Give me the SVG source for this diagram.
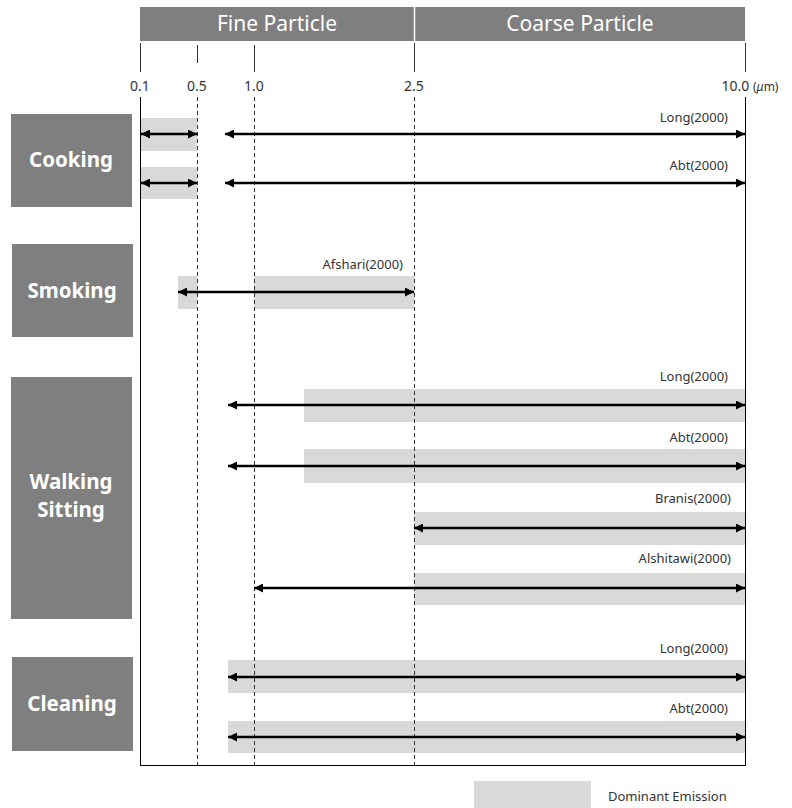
<svg xmlns="http://www.w3.org/2000/svg" width="792" height="808" viewBox="0 0 792 808">
<style>
.hdr{fill:#7f7f7f}
.hdrt{fill:#ffffff;font-family:"Noto Sans","Open Sans",sans-serif;font-size:21px;text-anchor:middle}
.cat{fill:#7f7f7f}
.catt{fill:#ffffff;font-family:"Noto Sans","Open Sans",sans-serif;font-size:20.5px;font-weight:bold;text-anchor:middle}
.ax{fill:#333333;font-family:"Noto Sans","Open Sans",sans-serif;font-size:14px;text-anchor:middle}
.ref{fill:#333333;font-family:"Noto Sans","Open Sans",sans-serif;font-size:13px;text-anchor:end}
.bar{fill:#d9d9d9}
.solid{stroke:#000;stroke-width:1;fill:none}
.dash{stroke:#333;stroke-width:1;stroke-dasharray:4 3;fill:none}
.tick{stroke:#333;stroke-width:1}
.arr{stroke:#000;stroke-width:2.5;fill:none;marker-start:url(#ah);marker-end:url(#ah)}
</style>
<defs>
<marker id="ah" viewBox="0 0 10 10" refX="10" refY="5" markerWidth="10" markerHeight="9" markerUnits="userSpaceOnUse" orient="auto-start-reverse">
<path d="M0,0 L10,5 L0,10 Z" fill="#000"/>
</marker>
</defs>
<rect width="792" height="808" fill="#ffffff"/>

<g id="header">
<rect class="hdr" x="140" y="7" width="605" height="34"/>
<line x1="414.5" y1="7" x2="414.5" y2="41" stroke="#ffffff" stroke-width="1.5"/>
<text class="hdrt" x="277" y="31">Fine Particle</text>
<text class="hdrt" x="580" y="31">Coarse Particle</text>
</g>

<g id="axis">
<line class="tick" x1="140.5" y1="43" x2="140.5" y2="72"/>
<line class="tick" x1="197.5" y1="45" x2="197.5" y2="63"/>
<line class="tick" x1="254.5" y1="45" x2="254.5" y2="72"/>
<line class="tick" x1="414.5" y1="43" x2="414.5" y2="72"/>
<line class="tick" x1="745.5" y1="43" x2="745.5" y2="72"/>
<text class="ax" x="140" y="91">0.1</text>
<text class="ax" x="197" y="91">0.5</text>
<text class="ax" x="254" y="91">1.0</text>
<text class="ax" x="414" y="91">2.5</text>
<text class="ax" x="750" y="91">10.0 <tspan font-size="12">(<tspan font-style="italic">μ</tspan>m)</tspan></text>
</g>

<g id="bars">
<rect class="bar" x="140" y="118" width="57" height="33"/>
<rect class="bar" x="140" y="167" width="57" height="32"/>
<rect class="bar" x="178" y="276" width="19" height="33"/>
<rect class="bar" x="254" y="276" width="160" height="33"/>
<rect class="bar" x="304" y="389" width="441" height="33"/>
<rect class="bar" x="304" y="449" width="441" height="34"/>
<rect class="bar" x="414" y="512" width="331" height="33"/>
<rect class="bar" x="414" y="573" width="331" height="32"/>
<rect class="bar" x="228" y="660" width="517" height="33"/>
<rect class="bar" x="228" y="721" width="517" height="32"/>
</g>

<g id="frame">
<line class="solid" x1="140.5" y1="97" x2="140.5" y2="765"/>
<line class="solid" x1="745.5" y1="97" x2="745.5" y2="765"/>
<line class="solid" x1="140" y1="765.5" x2="746" y2="765.5"/>
<line class="dash" x1="197.5" y1="97" x2="197.5" y2="765"/>
<line class="dash" x1="254.5" y1="97" x2="254.5" y2="765"/>
<line class="dash" x1="414.5" y1="97" x2="414.5" y2="765"/>
</g>

<g id="cooking">
<rect class="cat" x="11" y="114" width="121" height="93"/>
<text class="catt" x="71" y="167">Cooking</text>
</g>
<g id="smoking">
<rect class="cat" x="12" y="244" width="121" height="93"/>
<text class="catt" x="72" y="298">Smoking</text>
</g>
<g id="walking">
<rect class="cat" x="11" y="377" width="121" height="242"/>
<text class="catt" x="71" y="489">Walking</text>
<text class="catt" x="71" y="517">Sitting</text>
</g>
<g id="cleaning">
<rect class="cat" x="12" y="657" width="121" height="94"/>
<text class="catt" x="72" y="711">Cleaning</text>
</g>

<g id="connectors">
<line class="arr" x1="141" y1="134" x2="197" y2="134"/>
<line class="arr" x1="225" y1="134" x2="745" y2="134"/>
<line class="arr" x1="141" y1="183" x2="197" y2="183"/>
<line class="arr" x1="225" y1="183" x2="745" y2="183"/>
<line class="arr" x1="178" y1="292" x2="414" y2="292"/>
<line class="arr" x1="228" y1="405" x2="745" y2="405"/>
<line class="arr" x1="228" y1="466" x2="745" y2="466"/>
<line class="arr" x1="414" y1="528" x2="745" y2="528"/>
<line class="arr" x1="254" y1="588" x2="745" y2="588"/>
<line class="arr" x1="228" y1="677" x2="745" y2="677"/>
<line class="arr" x1="228" y1="737" x2="745" y2="737"/>
</g>

<g id="labels">
<text class="ref" x="728" y="122">Long(2000)</text>
<text class="ref" x="728" y="170">Abt(2000)</text>
<text class="ref" x="403" y="269">Afshari(2000)</text>
<text class="ref" x="728" y="381">Long(2000)</text>
<text class="ref" x="728" y="442">Abt(2000)</text>
<text class="ref" x="731" y="503">Branis(2000)</text>
<text class="ref" x="731" y="563">Alshitawi(2000)</text>
<text class="ref" x="728" y="653">Long(2000)</text>
<text class="ref" x="728" y="713">Abt(2000)</text>
</g>

<g id="legend">
<rect class="bar" x="474" y="781" width="117" height="27"/>
<text x="608" y="801" font-family="Noto Sans, Open Sans, sans-serif" font-size="13" fill="#333333">Dominant Emission</text>
</g>
</svg>
